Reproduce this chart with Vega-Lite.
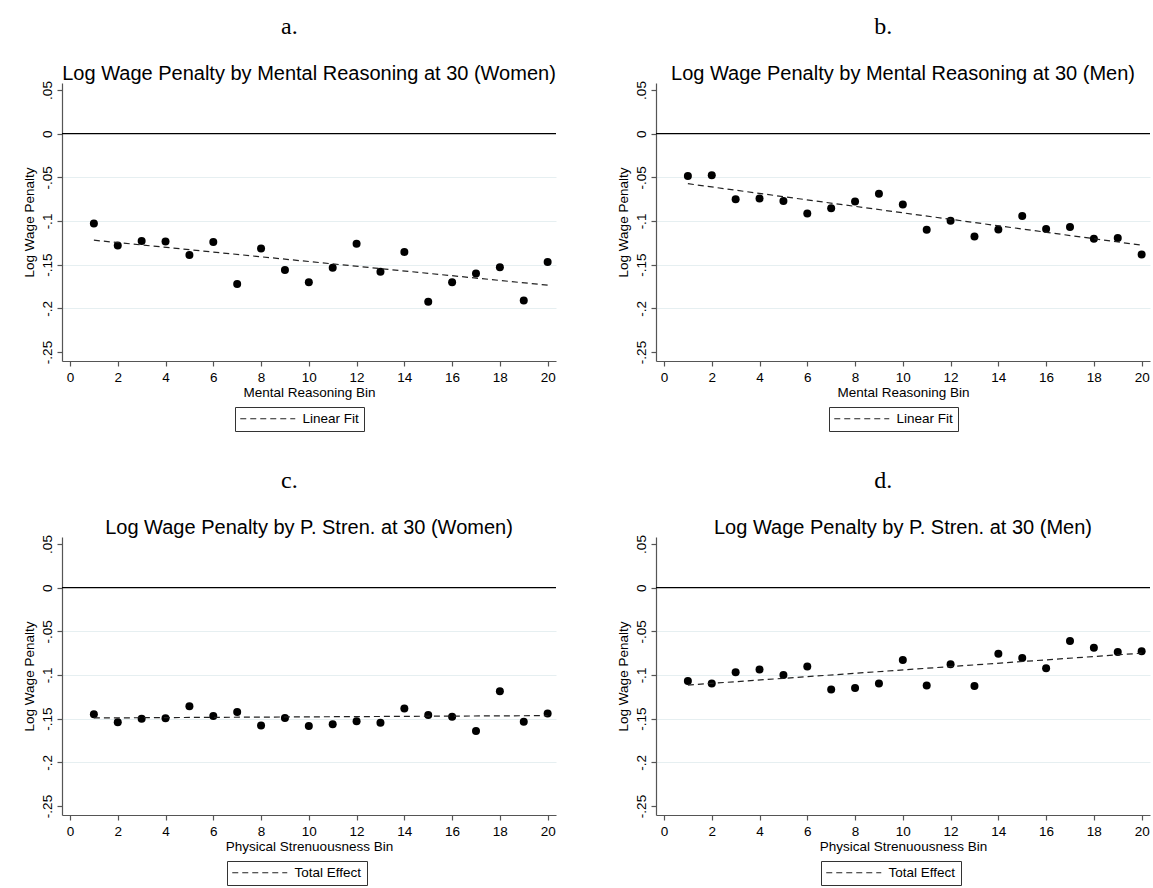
{
  "$schema": "https://vega.github.io/schema/vega-lite/v6.json",
  "background": "white",
  "padding": {"left": 22, "top": 14, "right": 0, "bottom": 0},
  "datasets": {
    "pts": [
      {"panel": "a", "bin": 1, "penalty": -0.103}, {"panel": "a", "bin": 2, "penalty": -0.128}, {"panel": "a", "bin": 3, "penalty": -0.123}, {"panel": "a", "bin": 4, "penalty": -0.1235}, {"panel": "a", "bin": 5, "penalty": -0.139}, {"panel": "a", "bin": 6, "penalty": -0.124}, {"panel": "a", "bin": 7, "penalty": -0.172}, {"panel": "a", "bin": 8, "penalty": -0.1315}, {"panel": "a", "bin": 9, "penalty": -0.156}, {"panel": "a", "bin": 10, "penalty": -0.17}, {"panel": "a", "bin": 11, "penalty": -0.1535}, {"panel": "a", "bin": 12, "penalty": -0.126}, {"panel": "a", "bin": 13, "penalty": -0.158}, {"panel": "a", "bin": 14, "penalty": -0.1355}, {"panel": "a", "bin": 15, "penalty": -0.1925}, {"panel": "a", "bin": 16, "penalty": -0.17}, {"panel": "a", "bin": 17, "penalty": -0.16}, {"panel": "a", "bin": 18, "penalty": -0.153}, {"panel": "a", "bin": 19, "penalty": -0.191}, {"panel": "a", "bin": 20, "penalty": -0.147},
      {"panel": "b", "bin": 1, "penalty": -0.0485}, {"panel": "b", "bin": 2, "penalty": -0.0477}, {"panel": "b", "bin": 3, "penalty": -0.075}, {"panel": "b", "bin": 4, "penalty": -0.0742}, {"panel": "b", "bin": 5, "penalty": -0.077}, {"panel": "b", "bin": 6, "penalty": -0.0915}, {"panel": "b", "bin": 7, "penalty": -0.0855}, {"panel": "b", "bin": 8, "penalty": -0.0777}, {"panel": "b", "bin": 9, "penalty": -0.0688}, {"panel": "b", "bin": 10, "penalty": -0.0812}, {"panel": "b", "bin": 11, "penalty": -0.11}, {"panel": "b", "bin": 12, "penalty": -0.0996}, {"panel": "b", "bin": 13, "penalty": -0.1177}, {"panel": "b", "bin": 14, "penalty": -0.1096}, {"panel": "b", "bin": 15, "penalty": -0.0942}, {"panel": "b", "bin": 16, "penalty": -0.1092}, {"panel": "b", "bin": 17, "penalty": -0.1069}, {"panel": "b", "bin": 18, "penalty": -0.1204}, {"panel": "b", "bin": 19, "penalty": -0.1196}, {"panel": "b", "bin": 20, "penalty": -0.1385},
      {"panel": "c", "bin": 1, "penalty": -0.145}, {"panel": "c", "bin": 2, "penalty": -0.154}, {"panel": "c", "bin": 3, "penalty": -0.15}, {"panel": "c", "bin": 4, "penalty": -0.1496}, {"panel": "c", "bin": 5, "penalty": -0.1358}, {"panel": "c", "bin": 6, "penalty": -0.1469}, {"panel": "c", "bin": 7, "penalty": -0.1423}, {"panel": "c", "bin": 8, "penalty": -0.1577}, {"panel": "c", "bin": 9, "penalty": -0.1492}, {"panel": "c", "bin": 10, "penalty": -0.1585}, {"panel": "c", "bin": 11, "penalty": -0.1565}, {"panel": "c", "bin": 12, "penalty": -0.1531}, {"panel": "c", "bin": 13, "penalty": -0.1546}, {"panel": "c", "bin": 14, "penalty": -0.1385}, {"panel": "c", "bin": 15, "penalty": -0.1458}, {"panel": "c", "bin": 16, "penalty": -0.1477}, {"panel": "c", "bin": 17, "penalty": -0.1642}, {"panel": "c", "bin": 18, "penalty": -0.1185}, {"panel": "c", "bin": 19, "penalty": -0.1535}, {"panel": "c", "bin": 20, "penalty": -0.1442},
      {"panel": "d", "bin": 1, "penalty": -0.1069}, {"panel": "d", "bin": 2, "penalty": -0.1096}, {"panel": "d", "bin": 3, "penalty": -0.0969}, {"panel": "d", "bin": 4, "penalty": -0.0938}, {"panel": "d", "bin": 5, "penalty": -0.1}, {"panel": "d", "bin": 6, "penalty": -0.0904}, {"panel": "d", "bin": 7, "penalty": -0.1165}, {"panel": "d", "bin": 8, "penalty": -0.115}, {"panel": "d", "bin": 9, "penalty": -0.1096}, {"panel": "d", "bin": 10, "penalty": -0.0827}, {"panel": "d", "bin": 11, "penalty": -0.1119}, {"panel": "d", "bin": 12, "penalty": -0.0877}, {"panel": "d", "bin": 13, "penalty": -0.1127}, {"panel": "d", "bin": 14, "penalty": -0.0758}, {"panel": "d", "bin": 15, "penalty": -0.0804}, {"panel": "d", "bin": 16, "penalty": -0.0923}, {"panel": "d", "bin": 17, "penalty": -0.0612}, {"panel": "d", "bin": 18, "penalty": -0.0688}, {"panel": "d", "bin": 19, "penalty": -0.0738}, {"panel": "d", "bin": 20, "penalty": -0.0727}
    ],
    "fit": [
      {"panel": "a", "bin": 1, "penalty": -0.122, "series": "Linear Fit"}, {"panel": "a", "bin": 20, "penalty": -0.1735, "series": "Linear Fit"},
      {"panel": "b", "bin": 1, "penalty": -0.0573, "series": "Linear Fit"}, {"panel": "b", "bin": 20, "penalty": -0.1277, "series": "Linear Fit"},
      {"panel": "c", "bin": 1, "penalty": -0.1492, "series": "Total Effect"}, {"panel": "c", "bin": 20, "penalty": -0.1465, "series": "Total Effect"},
      {"panel": "d", "bin": 1, "penalty": -0.1115, "series": "Total Effect"}, {"panel": "d", "bin": 20, "penalty": -0.075, "series": "Total Effect"}
    ]
  },
  "resolve": {"scale": {"strokeDash": "independent"}, "legend": {"strokeDash": "independent"}},
  "vconcat": [
    {"resolve": {"scale": {"strokeDash": "independent"}, "legend": {"strokeDash": "independent"}},
     "hconcat": [
      {"title": {"text": "a.", "anchor": "middle", "frame": "bounds", "font": "Liberation Serif", "fontSize": 24, "fontWeight": "normal", "offset": 25},
       "vconcat": [{
        "width": 494, "height": 278,
        "title": {"text": "Log Wage Penalty by Mental Reasoning at 30 (Women)", "anchor": "middle", "frame": "group", "font": "Liberation Sans", "fontSize": 20, "fontWeight": "normal", "offset": -3},
        "layer": [
          {"data": {"name": "pts"}, "transform": [{"filter": "datum.panel == 'a'"}],
           "mark": {"type": "circle", "size": 64, "color": "black", "opacity": 1},
           "encoding": {
             "x": {"field": "bin", "type": "quantitative", "scale": {"domain": [-0.335, 20.35], "nice": false, "zero": false}, "axis": {"title": "Mental Reasoning Bin", "values": [0,2,4,6,8,10,12,14,16,18,20]}},
             "y": {"field": "penalty", "type": "quantitative", "scale": {"domain": [-0.2603, 0.058], "nice": false, "zero": false}, "axis": {"title": "Log Wage Penalty", "values": [0.05,0,-0.05,-0.1,-0.15,-0.2,-0.25], "labelExpr": "replace('' + datum.value, '0.', '.')", "grid": true, "gridOpacity": {"condition": {"test": "datum.value > 0.04 || datum.value < -0.24 || datum.value == 0", "value": 0}, "value": 1}}}
           }},
          {"data": {"name": "fit"}, "transform": [{"filter": "datum.panel == 'a'"}],
           "mark": {"type": "line", "color": "#222222", "strokeWidth": 1.2},
           "encoding": {
             "x": {"field": "bin", "type": "quantitative"},
             "y": {"field": "penalty", "type": "quantitative"},
             "strokeDash": {"field": "series", "type": "nominal", "scale": {"domain": ["Linear Fit"], "range": [[6, 4]]},
               "legend": {"title": null, "orient": "none", "legendX": 173, "legendY": 324}}
           }},
          {"data": {"values": [{}]}, "mark": {"type": "rule", "color": "black", "strokeWidth": 1.3}, "encoding": {"y": {"datum": 0}}}
        ]
      }]},
      {"title": {"text": "b.", "anchor": "middle", "frame": "bounds", "font": "Liberation Serif", "fontSize": 24, "fontWeight": "normal", "offset": 25},
       "vconcat": [{
        "width": 494, "height": 278,
        "title": {"text": "Log Wage Penalty by Mental Reasoning at 30 (Men)", "anchor": "middle", "frame": "group", "font": "Liberation Sans", "fontSize": 20, "fontWeight": "normal", "offset": -3},
        "layer": [
          {"data": {"name": "pts"}, "transform": [{"filter": "datum.panel == 'b'"}],
           "mark": {"type": "circle", "size": 64, "color": "black", "opacity": 1},
           "encoding": {
             "x": {"field": "bin", "type": "quantitative", "scale": {"domain": [-0.335, 20.35], "nice": false, "zero": false}, "axis": {"title": "Mental Reasoning Bin", "values": [0,2,4,6,8,10,12,14,16,18,20]}},
             "y": {"field": "penalty", "type": "quantitative", "scale": {"domain": [-0.2603, 0.058], "nice": false, "zero": false}, "axis": {"title": "Log Wage Penalty", "values": [0.05,0,-0.05,-0.1,-0.15,-0.2,-0.25], "labelExpr": "replace('' + datum.value, '0.', '.')", "grid": true, "gridOpacity": {"condition": {"test": "datum.value > 0.04 || datum.value < -0.24 || datum.value == 0", "value": 0}, "value": 1}}}
           }},
          {"data": {"name": "fit"}, "transform": [{"filter": "datum.panel == 'b'"}],
           "mark": {"type": "line", "color": "#222222", "strokeWidth": 1.2},
           "encoding": {
             "x": {"field": "bin", "type": "quantitative"},
             "y": {"field": "penalty", "type": "quantitative"},
             "strokeDash": {"field": "series", "type": "nominal", "scale": {"domain": ["Linear Fit"], "range": [[6, 4]]},
               "legend": {"title": null, "orient": "none", "legendX": 173, "legendY": 324}}
           }},
          {"data": {"values": [{}]}, "mark": {"type": "rule", "color": "black", "strokeWidth": 1.3}, "encoding": {"y": {"datum": 0}}}
        ]
      }]}
    ]},
    {"resolve": {"scale": {"strokeDash": "independent"}, "legend": {"strokeDash": "independent"}},
     "hconcat": [
      {"title": {"text": "c.", "anchor": "middle", "frame": "bounds", "font": "Liberation Serif", "fontSize": 24, "fontWeight": "normal", "offset": 25},
       "vconcat": [{
        "width": 494, "height": 278,
        "title": {"text": "Log Wage Penalty by P. Stren. at 30 (Women)", "anchor": "middle", "frame": "group", "font": "Liberation Sans", "fontSize": 20, "fontWeight": "normal", "offset": -3},
        "layer": [
          {"data": {"name": "pts"}, "transform": [{"filter": "datum.panel == 'c'"}],
           "mark": {"type": "circle", "size": 64, "color": "black", "opacity": 1},
           "encoding": {
             "x": {"field": "bin", "type": "quantitative", "scale": {"domain": [-0.335, 20.35], "nice": false, "zero": false}, "axis": {"title": "Physical Strenuousness Bin", "values": [0,2,4,6,8,10,12,14,16,18,20]}},
             "y": {"field": "penalty", "type": "quantitative", "scale": {"domain": [-0.2603, 0.058], "nice": false, "zero": false}, "axis": {"title": "Log Wage Penalty", "values": [0.05,0,-0.05,-0.1,-0.15,-0.2,-0.25], "labelExpr": "replace('' + datum.value, '0.', '.')", "grid": true, "gridOpacity": {"condition": {"test": "datum.value > 0.04 || datum.value < -0.24 || datum.value == 0", "value": 0}, "value": 1}}}
           }},
          {"data": {"name": "fit"}, "transform": [{"filter": "datum.panel == 'c'"}],
           "mark": {"type": "line", "color": "#222222", "strokeWidth": 1.2},
           "encoding": {
             "x": {"field": "bin", "type": "quantitative"},
             "y": {"field": "penalty", "type": "quantitative"},
             "strokeDash": {"field": "series", "type": "nominal", "scale": {"domain": ["Total Effect"], "range": [[6, 4]]},
               "legend": {"title": null, "orient": "none", "legendX": 165, "legendY": 324}}
           }},
          {"data": {"values": [{}]}, "mark": {"type": "rule", "color": "black", "strokeWidth": 1.3}, "encoding": {"y": {"datum": 0}}}
        ]
      }]},
      {"title": {"text": "d.", "anchor": "middle", "frame": "bounds", "font": "Liberation Serif", "fontSize": 24, "fontWeight": "normal", "offset": 25},
       "vconcat": [{
        "width": 494, "height": 278,
        "title": {"text": "Log Wage Penalty by P. Stren. at 30 (Men)", "anchor": "middle", "frame": "group", "font": "Liberation Sans", "fontSize": 20, "fontWeight": "normal", "offset": -3},
        "layer": [
          {"data": {"name": "pts"}, "transform": [{"filter": "datum.panel == 'd'"}],
           "mark": {"type": "circle", "size": 64, "color": "black", "opacity": 1},
           "encoding": {
             "x": {"field": "bin", "type": "quantitative", "scale": {"domain": [-0.335, 20.35], "nice": false, "zero": false}, "axis": {"title": "Physical Strenuousness Bin", "values": [0,2,4,6,8,10,12,14,16,18,20]}},
             "y": {"field": "penalty", "type": "quantitative", "scale": {"domain": [-0.2603, 0.058], "nice": false, "zero": false}, "axis": {"title": "Log Wage Penalty", "values": [0.05,0,-0.05,-0.1,-0.15,-0.2,-0.25], "labelExpr": "replace('' + datum.value, '0.', '.')", "grid": true, "gridOpacity": {"condition": {"test": "datum.value > 0.04 || datum.value < -0.24 || datum.value == 0", "value": 0}, "value": 1}}}
           }},
          {"data": {"name": "fit"}, "transform": [{"filter": "datum.panel == 'd'"}],
           "mark": {"type": "line", "color": "#222222", "strokeWidth": 1.2},
           "encoding": {
             "x": {"field": "bin", "type": "quantitative"},
             "y": {"field": "penalty", "type": "quantitative"},
             "strokeDash": {"field": "series", "type": "nominal", "scale": {"domain": ["Total Effect"], "range": [[6, 4]]},
               "legend": {"title": null, "orient": "none", "legendX": 165, "legendY": 324}}
           }},
          {"data": {"values": [{}]}, "mark": {"type": "rule", "color": "black", "strokeWidth": 1.3}, "encoding": {"y": {"datum": 0}}}
        ]
      }]}
    ]}
  ],
  "spacing": 36,
  "config": {
    "view": {"stroke": null},
    "concat": {"spacing": 59},
    "axis": {
      "labelFont": "Liberation Sans", "labelFontSize": 13.5, "labelColor": "black",
      "titleFont": "Liberation Sans", "titleFontSize": 13.5, "titleFontWeight": "normal", "titleColor": "black",
      "domainColor": "#555555", "domainWidth": 1.2, "tickColor": "#555555", "tickSize": 5, "tickWidth": 1.2,
      "gridColor": "#e6eff1", "gridWidth": 1
    },
    "axisX": {"labelPadding": 4, "titlePadding": 2, "grid": false, "labelFlush": false},
    "axisY": {"labelAngle": 270, "labelAlign": "center", "labelBaseline": "bottom", "labelPadding": 3, "titlePadding": 4, "labelFlush": false},
    "legend": {
      "strokeColor": "#333333", "padding": 5, "symbolType": "M-5,0H5", "symbolSize": 121,
      "symbolOffset": 21, "labelOffset": 28,
      "symbolStrokeWidth": 1.2, "symbolStrokeColor": "#222222", "labelFont": "Liberation Sans", "labelFontSize": 13.5,
      "labelColor": "black"
    }
  }
}
